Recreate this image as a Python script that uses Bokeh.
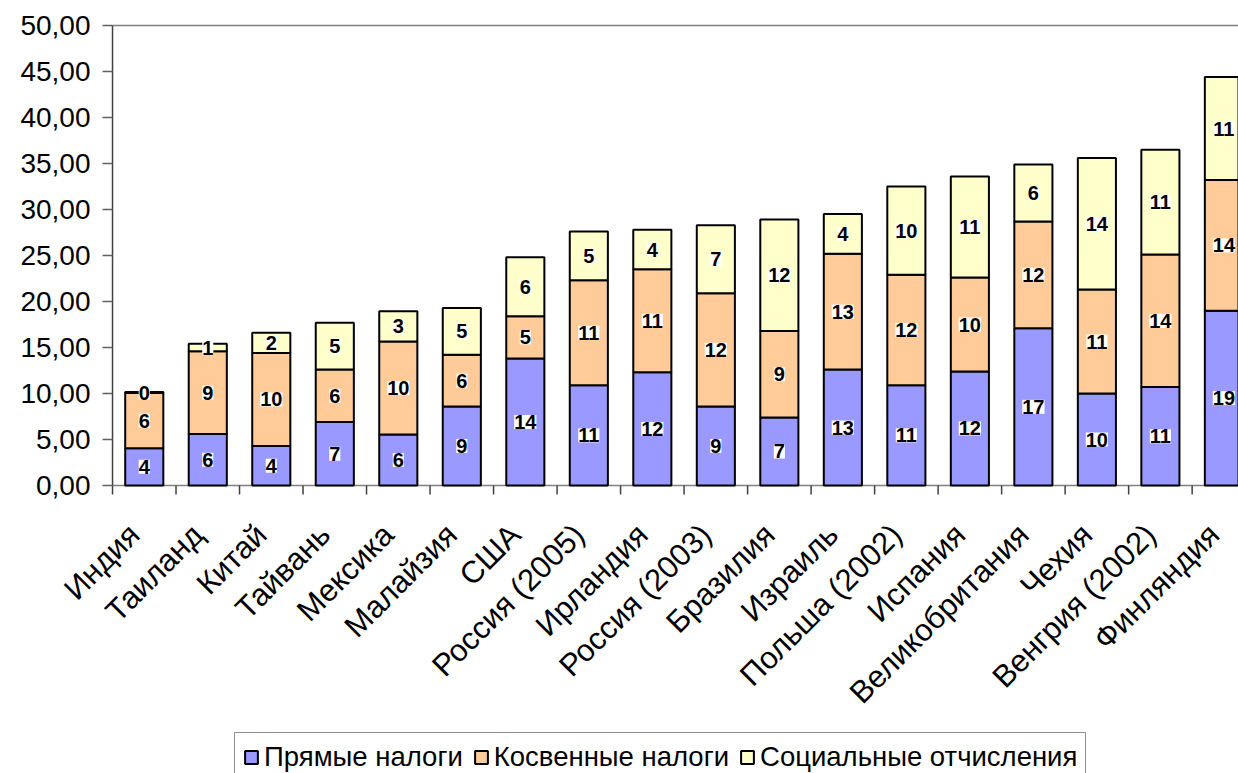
import numpy as np
from bokeh.plotting import figure
from bokeh.models import (ColumnDataSource, Legend, LegendItem, LabelSet, Range1d)
from bokeh.core.properties import value
from bokeh.embed import file_html
from bokeh.resources import INLINE

countries = ["Индия", "Таиланд", "Китай", "Тайвань", "Мексика", "Малайзия", "США",
             "Россия (2005)", "Ирландия", "Россия (2003)", "Бразилия", "Израиль",
             "Польша (2002)", "Испания", "Великобритания", "Чехия", "Венгрия (2002)",
             "Финляндия"]
direct = [4.05, 5.6, 4.3, 6.9, 5.55, 8.6, 13.8, 10.9, 12.3, 8.6, 7.4, 12.6, 10.9,
          12.4, 17.1, 10.0, 10.7, 19.0]
indirect = [6.0, 9.0, 10.1, 5.7, 10.1, 5.6, 4.6, 11.4, 11.2, 12.3, 9.4, 12.6, 12.0,
            10.2, 11.6, 11.3, 14.4, 14.2]
social = [0.1, 0.8, 2.2, 5.1, 3.3, 5.1, 6.4, 5.3, 4.3, 7.4, 12.1, 4.3, 9.6, 11.0,
          6.2, 14.3, 11.4, 11.2]
series_names = ["Прямые налоги", "Косвенные налоги", "Социальные отчисления"]
colors = ["#9999FF", "#FFCC99", "#FFFFCC"]
y_ticks = [0, 5, 10, 15, 20, 25, 30, 35, 40, 45, 50]
y_tick_labels = [f"{t:.2f}".replace(".", ",") for t in y_ticks]

FONT = "Liberation Sans"
n = len(countries)
xs = [i + 0.5 for i in range(n)]
PX_Y = 460 / 50        # px per value unit
PX_X = 63.5            # px per category
AXIS_X = 112           # pixel position of the value axis
Y_MAX_V = 50
X_END = 17.73

source = ColumnDataSource(dict(x=xs, direct=direct, indirect=indirect, social=social))

p = figure(width=1238, height=773, output_backend="svg", toolbar_location=None,
           x_range=Range1d(-AXIS_X / PX_X, X_END),
           y_range=Range1d(-288 / PX_Y, Y_MAX_V + 25 / PX_Y),
           x_axis_location=None, y_axis_location=None,
           min_border_left=0, min_border_top=0, min_border_right=0,
           min_border_bottom=0)
p.background_fill_color = "white"
p.border_fill_color = "white"
p.outline_line_color = None
p.xgrid.visible = False
p.ygrid.visible = False

bounds = list(range(n + 1))

# plot-area top border, category axis line and its tick marks at boundaries
p.segment(x0=[0], y0=[Y_MAX_V], x1=[X_END], y1=[Y_MAX_V], line_color="#808080", line_width=1.5)
p.segment(x0=[0], y0=[0], x1=[X_END], y1=[0], line_color="#808080", line_width=1.5)
p.segment(x0=bounds, y0=[0] * len(bounds), x1=bounds, y1=[-9 / PX_Y] * len(bounds),
          line_color="#404040", line_width=1.5)

# value axis line and its tick marks
p.segment(x0=[0], y0=[0], x1=[0], y1=[Y_MAX_V], line_color="#404040", line_width=1.5)
p.segment(x0=[-10 / PX_X] * len(y_ticks), y0=y_ticks, x1=[0] * len(y_ticks), y1=y_ticks,
          line_color="#606060", line_width=1.5)

rs = p.vbar_stack(["direct", "indirect", "social"], x="x", width=0.6, color=colors,
                  line_color="black", line_width=2, source=source)

# value labels inside the segments
lx, ly, lt = [], [], []
for i in range(n):
    base = 0.0
    for vals in (direct, indirect, social):
        v = vals[i]
        lx.append(xs[i])
        ly.append(base + v / 2)
        lt.append(str(int(np.floor(v + 0.5))))
        base += v
lsrc = ColumnDataSource(dict(x=lx, y=ly, t=lt))
p.add_layout(LabelSet(x="x", y="y", text="t", source=lsrc, text_align="center",
                      text_baseline="middle", text_font=value(FONT),
                      text_font_size="20px", text_font_style="bold",
                      text_color="black", background_fill_color="white"))

# value-axis tick labels
ysrc = ColumnDataSource(dict(x=[-22 / PX_X] * len(y_ticks), y=y_ticks, t=y_tick_labels))
p.add_layout(LabelSet(x="x", y="y", text="t", source=ysrc, text_align="right",
                      text_baseline="middle", text_font=value(FONT),
                      text_font_size="28px", text_color="black"))

# rotated category labels below the axis
cat_x = [x - 10 / PX_X for x in xs]
cat_y = [-44 / PX_Y] * n
csrc = ColumnDataSource(dict(x=cat_x, y=cat_y, t=countries))
p.add_layout(LabelSet(x="x", y="y", text="t", source=csrc, angle=np.pi / 4,
                      text_align="right", text_baseline="middle",
                      text_font=value(FONT), text_font_size="31px",
                      text_color="black"))

legend = Legend(items=[LegendItem(label=nm, renderers=[r]) for nm, r in zip(series_names, rs)],
                orientation="horizontal", location=(234, -9))
legend.label_text_font = FONT
legend.label_text_font_size = "27.5px"
legend.label_text_color = "black"
legend.glyph_width = 16
legend.glyph_height = 16
legend.label_standoff = 5
legend.spacing = 10
legend.padding = 8
legend.margin = 0
legend.border_line_color = "#202020"
legend.border_line_width = 1.5
legend.background_fill_color = "white"
p.add_layout(legend, "center")

open("out.html", "w").write(file_html(p, INLINE))
